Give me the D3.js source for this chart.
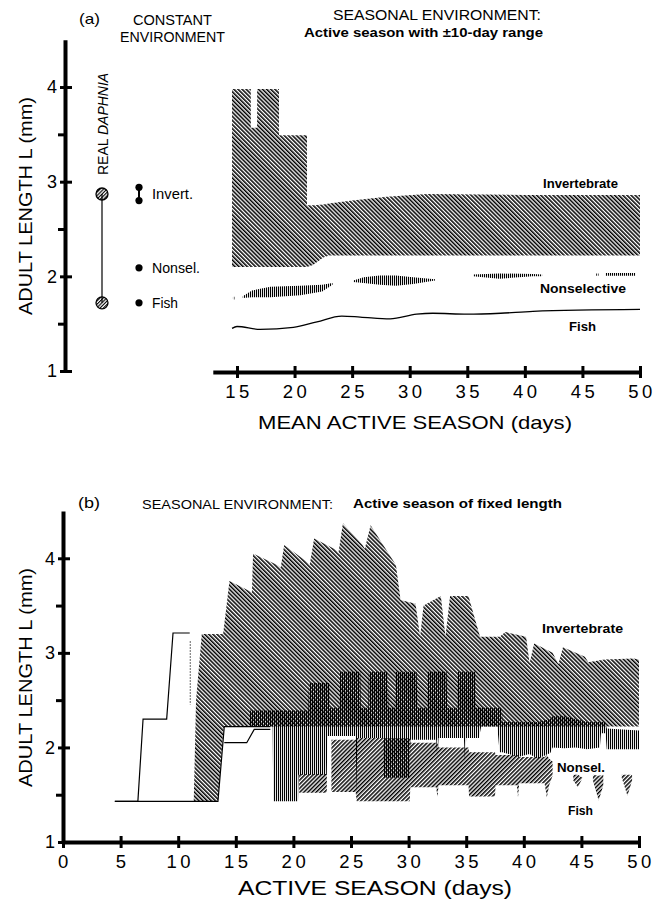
<!DOCTYPE html>
<html><head><meta charset="utf-8">
<script src="https://cdn.jsdelivr.net/npm/d3@7"></script>
<style>
body{margin:0;background:#fff}
svg{display:block}
text{font-family:"Liberation Sans",Arial,sans-serif;fill:#000}
</style>
</head><body>
<svg id="c" width="655" height="904"></svg>
<script>
// ---------- DATA ----------
const yTicks = [1, 2, 3, 4];
const yMinor = [1.5, 2.5, 3.5];
const xTicksA = [15, 20, 25, 30, 35, 40, 45, 50];
const xTicksB = [0, 5, 10, 15, 20, 25, 30, 35, 40, 45, 50];

// constant environment (panel a)
const constCats = ["Real Daphnia", "Model"];
const realDaphnia = [2.87, 1.72];
const invertConst = [2.94, 2.80];
const nonselConst = [2.09];
const fishConst = [1.72];

// panel (a): [mean active season, upper L, lower L]
const invA = [
  [14.57, 3.98, 2.1], [16.2, 3.98, 2.1], [16.2, 3.57, 2.1], [16.75, 3.57, 2.1],
  [16.75, 3.98, 2.1], [18.65, 3.98, 2.1], [18.65, 3.49, 2.1], [21.08, 3.49, 2.1],
  [21.08, 2.75, 2.1], [21.6, 2.75, 2.12], [22.5, 2.76, 2.2], [23, 2.77, 2.22],
  [25, 2.8, 2.22], [28, 2.84, 2.22], [31.5, 2.87, 2.22], [40, 2.86, 2.22], [50, 2.86, 2.22]
];
const nonA = [
  [14.65, 1.785, 1.755], [14.78, 1.785, 1.755], null,
  [15.5, 1.79, 1.77], [16.3, 1.85, 1.78], [17.9, 1.89, 1.78], [20.5, 1.90, 1.80],
  [22.4, 1.91, 1.84], [23.3, 1.93, 1.91], null,
  [25.1, 1.955, 1.94], [26.0, 1.99, 1.93], [27.4, 2.01, 1.91], [28.8, 2.01, 1.90],
  [30.3, 1.99, 1.92], [32.2, 1.97, 1.955], null,
  [35.5, 2.02, 2.0], [37.8, 2.03, 1.975], [40.7, 2.025, 2.0], [41.5, 2.02, 2.0], null,
  [46.2, 2.03, 2.005], [46.4, 2.03, 2.005], null,
  [47.0, 2.035, 2.005], [49.6, 2.035, 2.005]
];
const fishA = [
  [14.57, 1.45], [15.0, 1.47], [17.0, 1.44], [19.9, 1.46], [21.95, 1.52], [24.1, 1.58],
  [25.7, 1.57], [28.3, 1.55], [30.6, 1.60], [32.0, 1.61], [35.0, 1.60], [37.9, 1.61],
  [40.7, 1.63], [50, 1.65]
];

// panel (b): [active season, upper L, lower L]
const invB = [
  [11.35, 1.43, 1.43], [11.55, 2.5, 1.43], [12.05, 3.2, 1.43], [13.45, 3.2, 1.43],
  [13.9, 3.2, 2.15], [14.0, 3.3, 2.22], [14.45, 3.76, 2.22], [16.4, 3.64, 2.22],
  [16.5, 4.05, 2.22], [18.6, 3.93, 2.22], [18.9, 3.9, 2.22], [19.2, 4.14, 2.22],
  [21.2, 3.96, 2.22], [21.4, 3.92, 2.22], [21.8, 4.21, 2.22], [23.7, 4.09, 2.22],
  [23.9, 4.05, 2.22], [24.3, 4.37, 2.22], [26.0, 4.14, 2.22], [26.2, 4.1, 2.22],
  [26.7, 4.35, 2.22], [28.9, 3.93, 2.22], [29.3, 3.56, 2.22], [30.6, 3.52, 2.22],
  [31.0, 3.17, 2.22], [31.3, 3.5, 2.22], [32.8, 3.6, 2.22], [33.2, 3.17, 2.22],
  [33.6, 3.6, 2.22], [35.2, 3.6, 2.22], [35.8, 3.34, 2.22], [36.2, 3.17, 2.22],
  [37.9, 3.17, 2.22], [38.4, 3.22, 2.22], [40.2, 3.17, 2.22], [40.5, 2.89, 2.22],
  [40.9, 3.1, 2.22], [42.5, 3.0, 2.22], [43.0, 2.88, 2.22], [43.4, 3.06, 2.22],
  [45.3, 2.96, 2.22], [45.6, 2.9, 2.22], [47, 2.93, 2.22], [49.5, 2.94, 2.22], [50, 2.93, 2.22]
];
const nonB = [
  [16.2, 2.39, 2.22], [18.2, 2.39, 2.22], [18.25, 2.39, 1.43], [20.4, 2.39, 1.43],
  [20.45, 2.39, 1.71], [21.3, 2.39, 1.71], [21.35, 2.68, 1.71], [22.9, 2.68, 1.71],
  [22.95, 2.68, 2.12], [23.1, 2.68, 2.12], [23.15, 2.42, 2.12], [24.0, 2.42, 2.12],
  [24.05, 2.8, 2.12], [25.4, 2.8, 2.12], [25.5, 2.8, 1.52], [25.6, 2.8, 2.1],
  [25.8, 2.8, 2.1], [25.85, 2.42, 2.1], [26.5, 2.42, 2.1], [26.55, 2.8, 2.1],
  [27.8, 2.8, 2.1], [27.85, 2.8, 1.68], [28.2, 2.8, 1.68], [28.25, 2.42, 1.68],
  [28.8, 2.42, 1.68], [28.85, 2.8, 1.68], [30.1, 2.8, 1.68], [30.15, 2.8, 2.08],
  [30.7, 2.8, 2.08], [30.75, 2.42, 2.08], [31.6, 2.42, 2.08], [31.65, 2.8, 2.08],
  [32.4, 2.8, 2.08], [32.5, 2.8, 1.85], [32.6, 2.8, 2.1], [33.3, 2.8, 2.1],
  [33.35, 2.42, 2.1], [34.2, 2.42, 2.1], [34.25, 2.8, 2.1], [34.8, 2.8, 2.1],
  [34.9, 2.8, 1.84], [35.0, 2.8, 2.1], [35.8, 2.8, 2.1], [35.85, 2.42, 2.1],
  [36.1, 2.42, 2.1], [36.3, 2.42, 2.22], [37.7, 2.42, 2.22], [37.9, 2.42, 1.95],
  [38.1, 2.42, 1.95], [38.15, 2.27, 1.95], [39.5, 2.27, 1.9], [40.5, 2.27, 1.93],
  [41.2, 2.27, 1.88], [42.3, 2.3, 1.94], [42.5, 2.33, 2.0], [43.5, 2.33, 1.99],
  [44.5, 2.3, 2.0], [45.5, 2.27, 1.98], [46.6, 2.27, 2.0], [46.7, 2.27, 2.15],
  [47.1, 2.27, 2.15], [47.2, 2.2, 1.98], [50, 2.18, 1.98]
];
const fishB = [
  [20.5, 1.72, 1.52], [22.9, 1.72, 1.52], null,
  [23.3, 2.08, 1.53], [25.4, 2.08, 1.53], [25.5, 2.1, 1.43], [30.1, 2.1, 1.43],
  [30.15, 2.05, 1.58], [32.4, 2.05, 1.58], [32.5, 2.05, 1.47], [32.6, 2.0, 1.6],
  [35.2, 2.0, 1.6], [35.25, 1.95, 1.48], [37.5, 1.95, 1.48], [37.55, 1.92, 1.6],
  [39.4, 1.92, 1.6], [39.5, 1.92, 1.47], [39.6, 1.9, 1.62], [41.8, 1.9, 1.62],
  [42.0, 1.92, 1.47], [42.2, 1.88, 1.6], [42.5, 1.85, 1.7], null,
  [44.3, 1.71, 1.65], [44.7, 1.71, 1.58], [45.1, 1.68, 1.68], null,
  [46.0, 1.71, 1.65], [46.5, 1.7, 1.44], [46.9, 1.71, 1.6], null,
  [48.5, 1.71, 1.68], [49.0, 1.71, 1.49], [49.4, 1.71, 1.65]
];
const stepLine = [[4.5, 1.43], [6.5, 1.43], [6.95, 2.3], [9.0, 2.3], [9.55, 3.21], [11.0, 3.21]];
const baseLine = [[4.5, 1.43], [13.45, 1.43], [14.0, 2.22], [18.0, 2.22]];
const lowLine = [[14.0, 2.05], [15.95, 2.05], [16.6, 2.19], [18.0, 2.19]];
const dotLine = [[11.05, 3.12], [11.05, 2.45]];

// ---------- DRAW ----------
const FONT = '"Liberation Sans",Arial,sans-serif';
const svg = d3.select("#c");
const defs = svg.append("defs");
function hatch(id, w, bw, rot) {
  const p = defs.append("pattern").attr("id", id).attr("patternUnits", "userSpaceOnUse")
    .attr("width", w).attr("height", 10);
  if (rot) p.attr("patternTransform", `rotate(${rot})`);
  p.append("rect").attr("width", bw).attr("height", 10).attr("fill", "#000");
}
hatch("hInv", 2.9, 1.55, -45);
hatch("hFish", 2.9, 1.5, 45);
hatch("hVert", 2, 1.1, 0);
hatch("hCirc", 2.4, 1.1, 45);

const xA = d3.scaleLinear().domain([12.9, 50]).range([212.8, 640]);
const yA = d3.scaleLinear().domain([1, 4.5]).range([371, 39.7]);
const xB = d3.scaleLinear().domain([0, 50]).range([63, 639]);
const yB = d3.scaleLinear().domain([1, 4.5]).range([842, 511]);
const xC = d3.scalePoint().domain(constCats).range([102, 139]);

const band = (x, y) => d3.area().defined(d => d != null)
  .x(d => x(d[0])).y0(d => y(d[2])).y1(d => y(d[1]));
const path = (x, y) => d3.line().x(d => x(d[0])).y(d => y(d[1]));

function yAxis(y, xpos) {
  const g = svg.append("g").attr("transform", `translate(${xpos},0)`)
    .call(d3.axisLeft(y).tickValues(yTicks).tickFormat(d3.format("d"))
      .tickSizeInner(5).tickSizeOuter(0).tickPadding(3));
  g.select(".domain").attr("stroke-width", 4);
  g.selectAll(".tick line").attr("stroke-width", 3).attr("x1", 7);
  g.selectAll(".tick text").attr("font-size", 18).attr("font-family", FONT);
  const m = svg.append("g").attr("transform", `translate(${xpos},0)`)
    .call(d3.axisLeft(y).tickValues(yMinor).tickFormat("").tickSizeInner(7).tickSizeOuter(0));
  m.select(".domain").remove();
  m.selectAll(".tick line").attr("stroke-width", 3);
}
function xAxis(x, ypos, ticks) {
  const g = svg.append("g").attr("transform", `translate(0,${ypos})`)
    .call(d3.axisBottom(x).tickValues(ticks).tickFormat(d3.format("d"))
      .tickSizeInner(6).tickSizeOuter(0).tickPadding(7));
  g.select(".domain").attr("stroke-width", 4);
  g.selectAll(".tick line").attr("stroke-width", 3).attr("y1", -6);
  g.selectAll(".tick text").attr("font-size", 18.5).attr("font-family", FONT)
    .attr("letter-spacing", 3.5).attr("dx", 1.5);
}
function label(t, x, y, size, w, opts = {}) {
  const el = svg.append("text").attr("x", x).attr("y", y).attr("font-size", size).text(t);
  if (w) el.attr("textLength", w).attr("lengthAdjust", "spacingAndGlyphs");
  if (opts.bold) el.attr("font-weight", "bold");
  if (opts.anchor) el.attr("text-anchor", opts.anchor);
  if (opts.rot) el.attr("transform", `rotate(${opts.rot},${x},${y})`);
  return el;
}

// ===== Panel (a) =====
svg.append("path").datum(invA).attr("d", band(xA, yA)).attr("fill", "url(#hInv)");
svg.append("path").datum(nonA).attr("d", band(xA, yA)).attr("fill", "url(#hVert)");
svg.append("path").datum(fishA).attr("d", path(xA, yA).curve(d3.curveMonotoneX))
  .attr("fill", "none").attr("stroke", "#000").attr("stroke-width", 1.3);

// constant environment
svg.append("line").attr("x1", xC("Real Daphnia")).attr("x2", xC("Real Daphnia"))
  .attr("y1", yA(realDaphnia[0])).attr("y2", yA(realDaphnia[1])).attr("stroke", "#000").attr("stroke-width", 1.2);
svg.selectAll(".rd").data(realDaphnia).join("circle")
  .attr("cx", xC("Real Daphnia")).attr("cy", d => yA(d)).attr("r", 6)
  .attr("fill", "url(#hCirc)").attr("stroke", "#000").attr("stroke-width", 1.3);
svg.append("line").attr("x1", xC("Model")).attr("x2", xC("Model"))
  .attr("y1", yA(invertConst[0])).attr("y2", yA(invertConst[1])).attr("stroke", "#000").attr("stroke-width", 2);
svg.selectAll(".md").data([...invertConst, ...nonselConst, ...fishConst]).join("circle")
  .attr("cx", xC("Model")).attr("cy", d => yA(d)).attr("r", 3.6).attr("fill", "#000");

yAxis(yA, 65);
xAxis(xA, 372, xTicksA);

label("(a)", 79, 24, 15, 21);
label("CONSTANT", 133, 25, 14, 79);
label("ENVIRONMENT", 120, 42, 14, 105);
label("SEASONAL ENVIRONMENT:", 333, 20, 14, 208);
label("Active season with \u00b110-day range", 304, 37, 12.5, 239, {bold: true});
const rdT = svg.append("text").attr("x", 108).attr("y", 175).attr("font-size", 14)
  .attr("transform", "rotate(-90,108,175)");
rdT.append("tspan").text("REAL ");
rdT.append("tspan").attr("font-style", "italic").text("DAPHNIA");
label("Invert.", 152, 199, 14, 41);
label("Nonsel.", 152, 273, 14, 48);
label("Fish", 152, 308, 14, 26);
label("Invertebrate", 543, 188, 12.5, 75, {bold: true});
label("Nonselective", 540, 293, 12.5, 86, {bold: true});
label("Fish", 569, 331, 12.5, 27, {bold: true});
label("ADULT LENGTH L (mm)", 32, 315, 19, 218, {rot: -90});
label("MEAN ACTIVE SEASON (days)", 258, 429, 18.5, 314);

// ===== Panel (b) =====
svg.append("path").datum(invB).attr("d", band(xB, yB)).attr("fill", "url(#hInv)");
svg.append("path").datum(fishB).attr("d", band(xB, yB)).attr("fill", "url(#hFish)");
svg.append("path").datum(nonB).attr("d", band(xB, yB)).attr("fill", "url(#hVert)");
[stepLine, baseLine, lowLine].forEach(l =>
  svg.append("path").datum(l).attr("d", path(xB, yB)).attr("fill", "none")
    .attr("stroke", "#000").attr("stroke-width", 1.2));
svg.append("path").datum(dotLine).attr("d", path(xB, yB)).attr("fill", "none")
  .attr("stroke", "#000").attr("stroke-width", 1.2).attr("stroke-dasharray", "1,2");

yAxis(yB, 63);
xAxis(xB, 842, xTicksB);

label("(b)", 78, 508, 15, 22);
label("SEASONAL ENVIRONMENT:", 142, 509, 12.5, 191);
label("Active season of fixed length", 353, 508, 12.5, 209, {bold: true});
label("Invertebrate", 542, 633, 12.5, 81, {bold: true});
label("Nonsel.", 557, 772, 12.5, 48, {bold: true});
label("Fish", 568, 815, 12.5, 25, {bold: true});
label("ADULT LENGTH L (mm)", 32, 787, 19, 219, {rot: -90});
label("ACTIVE SEASON (days)", 238, 895, 19.5, 274);
</script>
</body></html>
